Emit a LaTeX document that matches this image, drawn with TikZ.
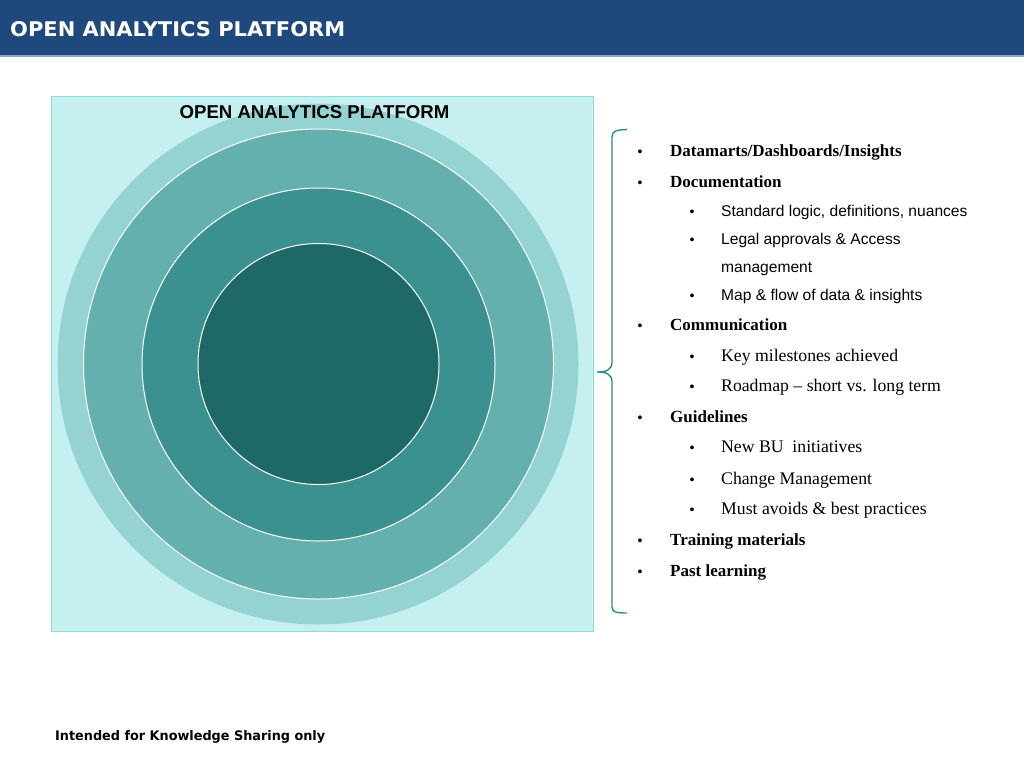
\documentclass[tikz,border=0pt]{standalone}
\usepackage{graphicx}
\usepackage{fontspec}
\setmainfont{Liberation Serif}
\newfontfamily\arialf{Liberation Sans}
\newfontfamily\tahomaf{DejaVu Sans}
\definecolor{hdrblue}{HTML}{1F497D}
\definecolor{hdrline}{HTML}{8AA8D0}
\definecolor{boxfill}{HTML}{C6F0F0}
\definecolor{boxedge}{HTML}{8EDCDC}
\definecolor{ringa}{HTML}{94D3D2}
\definecolor{ringb}{HTML}{63B0AF}
\definecolor{ringc}{HTML}{3B918F}
\definecolor{ringd}{HTML}{1E6967}
\definecolor{brk}{HTML}{2C8C8A}
\tikzset{
  ring/.style={circle, inner sep=0pt, outer sep=0pt},
  mainitem/.style={anchor=base west, inner sep=0pt, font=\bfseries\fontsize{17}{19}\selectfont},
  subserif/.style={anchor=base west, inner sep=0pt, font=\fontsize{17.7}{19}\selectfont},
  subsans/.style={anchor=base west, inner sep=0pt, font=\arialf\fontsize{15.6}{18}\selectfont},
  bul/.style={anchor=base, inner sep=0pt, font=\arialf\fontsize{14}{16}\selectfont},
}
\begin{document}
\begin{tikzpicture}[x=1pt,y=-1pt]
\useasboundingbox (0,0) rectangle (1024,768);
\fill[white] (0,0) rectangle (1024,768);
% header
\fill[hdrblue] (0,0) rectangle (1024,55.5);
\fill[hdrline] (0,55.5) rectangle (1024,57.5);
\node[anchor=base west, inner sep=0pt, text=white] (hdr) at (10,37)
  {\resizebox{335pt}{15pt}{\tahomaf\bfseries OPEN ANALYTICS PLATFORM}};
% box
\node[draw=boxedge, fill=boxfill, line width=1pt, minimum width=542pt, minimum height=535pt,
  inner sep=0pt, anchor=north west] (panel) at (51,96) {};
% rings
\node[ring, fill=ringa, minimum size=521pt] (ra) at (318,364) {};
\node[ring, fill=ringb, draw=white, line width=1pt, minimum size=470pt] (rb) at (318.5,364) {};
\node[ring, fill=ringc, draw=white, line width=1pt, minimum size=353pt] (rc) at (318.5,364.5) {};
\node[ring, fill=ringd, draw=white, line width=1pt, minimum size=241pt] (rd) at (318.5,364) {};
\node[anchor=base, inner sep=0pt, font=\arialf\bfseries\fontsize{18.6}{20}\selectfont] (ttl) at (314.5,118)
  {OPEN ANALYTICS PLATFORM};
% bracket
\coordinate (btop) at (627,129.5);
\coordinate (bbot) at (627,613);
\coordinate (btip) at (597,372);
\draw[brk, line width=1.4pt] (btop) .. controls (616,130) and (612,131) .. (612,137)
  -- (612,362) .. controls (612,370) and (606,372) .. (btip)
  .. controls (606,372) and (612,374) .. (612,382)
  -- (612,607) .. controls (612,612) and (616,613) .. (bbot);
% list
\node[bul] (b1) at (640,156) {•};
\node[mainitem] (t1) at (670,156) {Datamarts/Dashboards/Insights};
\node[bul] (b2) at (640,187) {•};
\node[mainitem] (t2) at (670,187) {Documentation};
\node[bul] (b3) at (692,216) {•};
\node[subsans] (t3) at (721,216) {Standard logic, definitions, nuances};
\node[bul] (b4) at (692,244) {•};
\node[subsans] (t4) at (721,244) {Legal approvals \& Access};
\node[subsans] (t4b) at (721,272.5) {management};
\node[bul] (b5) at (692,300) {•};
\node[subsans] (t5) at (721,300) {Map \& flow of data \& insights};
\node[bul] (b6) at (640,330.5) {•};
\node[mainitem] (t6) at (670,330.5) {Communication};
\node[bul] (b7) at (692,361.5) {•};
\node[subserif] (t7) at (721,361.5) {Key milestones achieved};
\node[bul] (b8) at (692,391.5) {•};
\node[subserif] (t8) at (721,391.5) {Roadmap -- short vs. long term};
\node[bul] (b9) at (640,422.5) {•};
\node[mainitem] (t9) at (670,422.5) {Guidelines};
\node[bul] (b10) at (692,452.5) {•};
\node[subserif] (t10) at (721,452.5) {New BU\ \ initiatives};
\node[bul] (b11) at (692,484) {•};
\node[subserif] (t11) at (721,484) {Change Management};
\node[bul] (b12) at (692,514) {•};
\node[subserif] (t12) at (721,514) {Must avoids \& best practices};
\node[bul] (b13) at (640,545) {•};
\node[mainitem] (t13) at (670,545) {Training materials};
\node[bul] (b14) at (640,576) {•};
\node[mainitem] (t14) at (670,576) {Past learning};
% footer
\node[anchor=base west, inner sep=0pt] (foot) at (55,740)
  {\resizebox{270pt}{10pt}{\tahomaf\bfseries Intended for Knowledge Sharing only}};
\end{tikzpicture}
\end{document}
